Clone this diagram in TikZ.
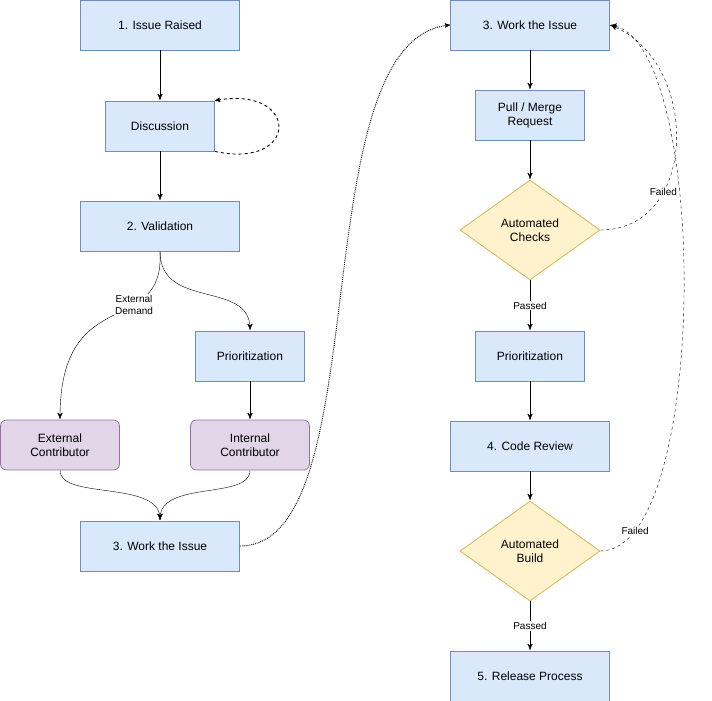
\documentclass[tikz,border=0pt]{standalone}
\usepackage{fontspec}
\setmainfont{Liberation Sans}
\usetikzlibrary{arrows, positioning, shapes.geometric}
\definecolor{blueF}{HTML}{DAE8FC}
\definecolor{blueD}{HTML}{6C8EBF}
\definecolor{purpF}{HTML}{E1D5E7}
\definecolor{purpD}{HTML}{9673A6}
\definecolor{yelF}{HTML}{FFF2CC}
\definecolor{yelD}{HTML}{D6B656}

\begin{document}
\begin{tikzpicture}[x=1pt, y=-1pt, font=\fontsize{12}{14}\selectfont]
	\tikzset {->, >=stealth', line width=1.5pt,
		stage/.style={draw=blueD, fill=blueF, minimum height=50pt, align=center, line width=0.8pt},
		wide/.style={stage, minimum width=159pt},
		narrow/.style={stage, minimum width=109pt},
		actor/.style={draw=purpD, fill=purpF, rounded corners=6pt, minimum width=119pt, minimum height=50pt, align=center, line width=0.8pt},
		check/.style={diamond, draw=yelD, fill=yelF, minimum width=140pt, minimum height=100pt, aspect=1.4, inner sep=0pt, align=center, line width=0.8pt},
		lbl/.style={fill=white, font=\fontsize{10}{12}\selectfont, inner sep=1pt, align=center}
	}
	\useasboundingbox (0,0) rectangle (712,701);

	\node[wide] (raised) at (160,25) {1. Issue Raised};
	\node[narrow] (disc) at (160,126) {Discussion};
	\node[wide] (valid) at (160,226) {2. Validation};
	\node[narrow] (prioL) at (250,356) {Prioritization};
	\node[actor] (ext) at (60,445) {External\\Contributor};
	\node[actor] (int) at (250,445) {Internal\\Contributor};
	\node[wide] (workL) at (160,546) {3. Work the Issue};

	\node[wide] (workR) at (530,25) {3. Work the Issue};
	\node[narrow] (pull) at (530,115) {Pull / Merge\\Request};
	\node[check] (checks) at (530,230) {Automated\\Checks};
	\node[narrow] (prioR) at (530,356) {Prioritization};
	\node[wide] (review) at (530,446) {4. Code Review};
	\node[check] (build) at (530,551) {Automated\\Build};
	\node[wide] (release) at (530,676) {5. Release Process};

	% left column
	\draw (raised) -- (disc);
	\draw (disc) -- (valid);
	\draw[dashed, line width=0.9pt] (disc.south east) .. controls (300,170) and (300,85) .. (disc.north east);
	\draw (valid.south) .. controls (165,340) and (60,280) .. node[lbl, pos=0.35] {External\\Demand} (ext.north);
	\draw (valid.south) .. controls (160,310) and (250,280) .. (prioL.north);
	\draw (prioL) -- (int);
	\draw (ext.south) .. controls (60,500) and (160,480) .. (workL.north);
	\draw (int.south) .. controls (250,500) and (160,480) .. (workL.north);
	\draw[densely dotted, line width=0.9pt] (workL.east) .. controls (380,546) and (300,40) .. (workR.west);

	% right column
	\draw (workR) -- (pull);
	\draw (pull) -- (checks);
	\draw (checks) -- node[lbl] {Passed} (prioR);
	\draw (prioR) -- (review);
	\draw (review) -- (build);
	\draw (build) -- node[lbl] {Passed} (release);
	\draw[dashed] (checks.east) .. controls (700,230) and (700,60) .. node[lbl, pos=0.3] {Failed} (workR.east);
	\draw[dashed] (build.east) .. controls (710,551) and (710,40) .. node[lbl, pos=0.12] {Failed} (workR.east);
\end{tikzpicture}
\end{document}
